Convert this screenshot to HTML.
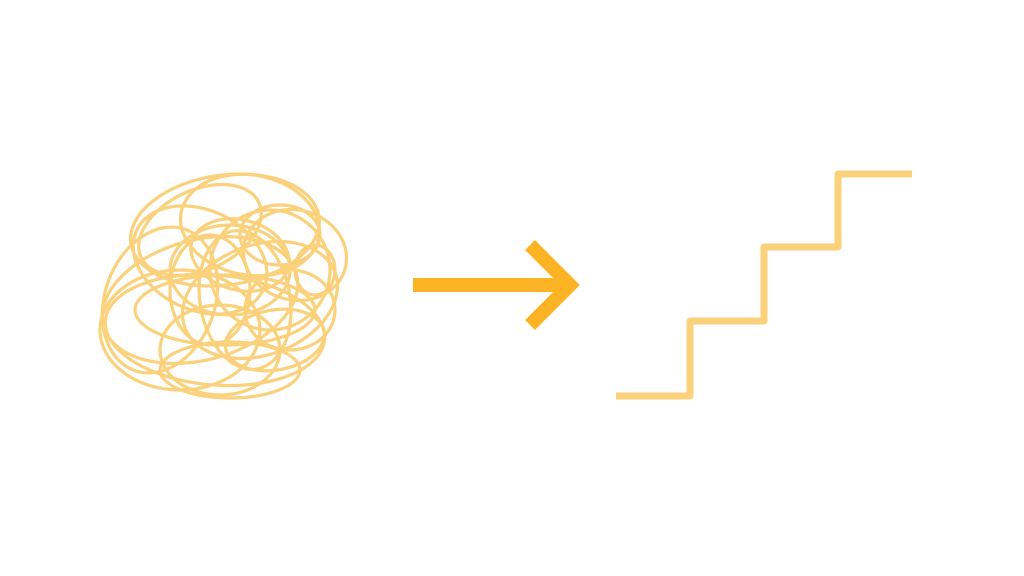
<!DOCTYPE html>
<html><head><meta charset="utf-8"><style>html,body{margin:0;padding:0;background:#fff;}svg{display:block}</style></head>
<body>
<svg width="1024" height="576" viewBox="0 0 1024 576" xmlns="http://www.w3.org/2000/svg">
<g fill="none" stroke="#FBD17C" stroke-width="3.2">
<ellipse cx="225" cy="230" rx="95" ry="55" transform="rotate(-8 225 230)"/>
<ellipse cx="250" cy="225" rx="70" ry="50" transform="rotate(10 250 225)"/>
<ellipse cx="200" cy="300" rx="100" ry="60" transform="rotate(-15 200 300)"/>
<ellipse cx="215" cy="330" rx="110" ry="55" transform="rotate(5 215 330)"/>
<ellipse cx="180" cy="330" rx="80" ry="60"/>
<ellipse cx="260" cy="300" rx="80" ry="55" transform="rotate(-20 260 300)"/>
<ellipse cx="230" cy="270" rx="60" ry="45"/>
<ellipse cx="240" cy="255" rx="50" ry="35" transform="rotate(15 240 255)"/>
<ellipse cx="200" cy="260" rx="70" ry="50" transform="rotate(25 200 260)"/>
<ellipse cx="270" cy="270" rx="60" ry="60"/>
<ellipse cx="220" cy="350" rx="60" ry="45"/>
<ellipse cx="160" cy="300" rx="55" ry="75" transform="rotate(20 160 300)"/>
<ellipse cx="290" cy="310" rx="45" ry="40"/>
<ellipse cx="245" cy="300" rx="45" ry="70" transform="rotate(-10 245 300)"/>
<ellipse cx="200" cy="230" rx="65" ry="40" transform="rotate(-25 200 230)"/>
<ellipse cx="315" cy="270" rx="20" ry="25"/>
<ellipse cx="225" cy="310" rx="90" ry="35"/>
<ellipse cx="280" cy="235" rx="40" ry="30"/>
<ellipse cx="210" cy="290" rx="40" ry="55"/>
<ellipse cx="275" cy="340" rx="50" ry="30" transform="rotate(-10 275 340)"/>
<ellipse cx="295" cy="255" rx="52" ry="45" transform="rotate(15 295 255)"/>
<ellipse cx="230" cy="370" rx="70" ry="28"/>
</g>
<g fill="none" stroke="#FDB424" stroke-width="14">
<line x1="413" y1="285" x2="565" y2="285"/>
<polyline points="530,245 570,285 530,325" stroke-linejoin="miter"/>
</g>
<polyline fill="none" stroke="#FBD17C" stroke-width="7" stroke-linejoin="round" points="616,396 690,396 690,321 764,321 764,247 838,247 838,174 912,174"/>
</svg>
</body></html>
